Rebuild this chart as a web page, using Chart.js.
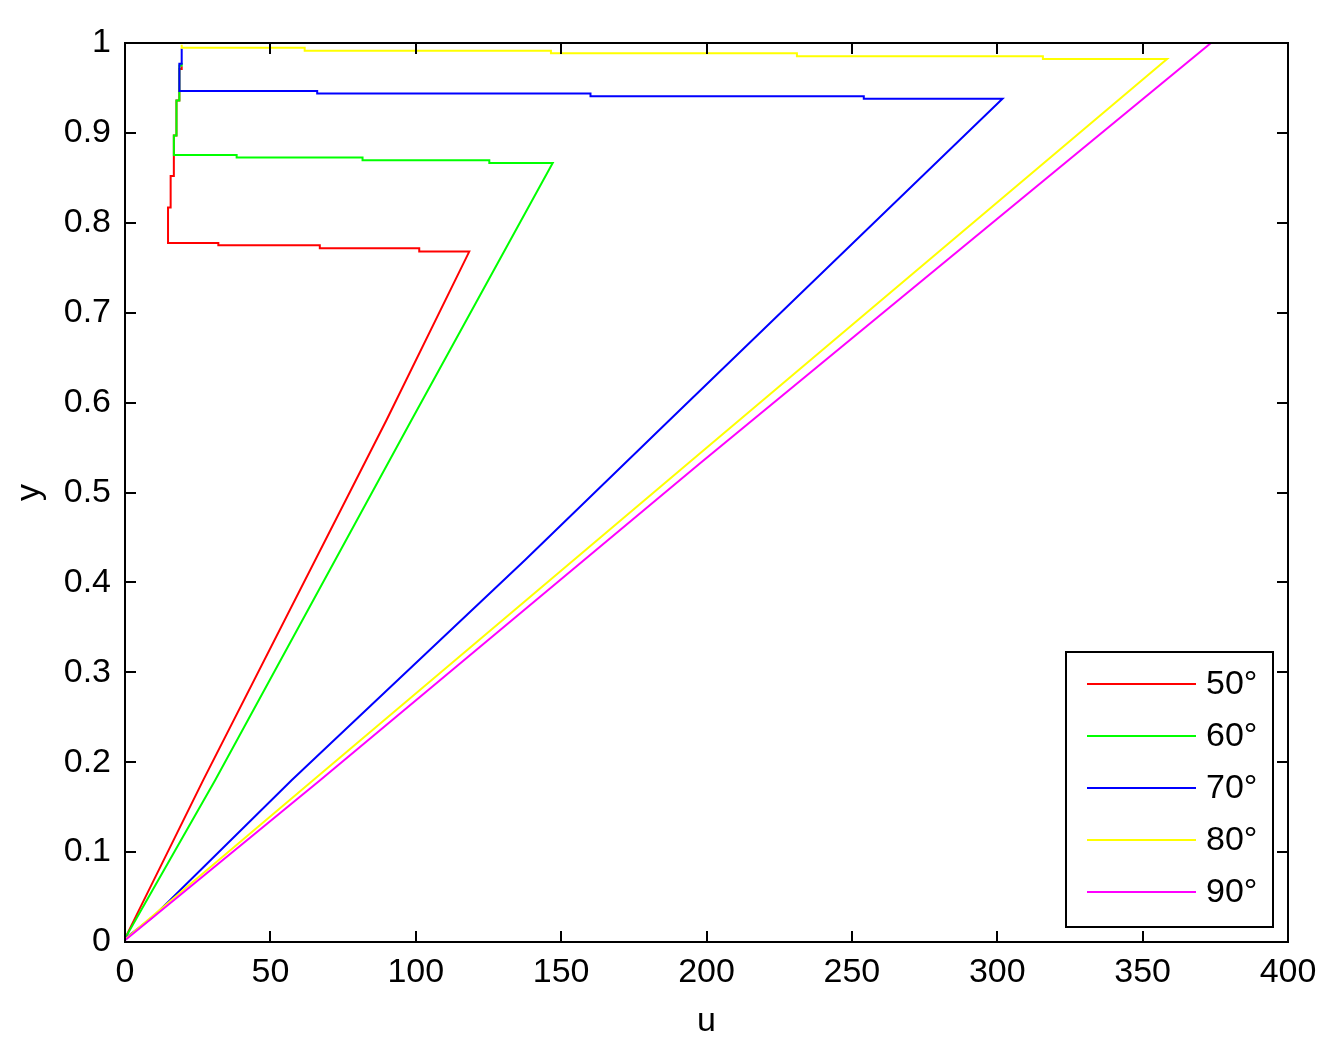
<!DOCTYPE html>
<html>
<head>
<meta charset="utf-8">
<title>u - y</title>
<script src="https://cdn.jsdelivr.net/npm/chart.js@4/dist/chart.umd.min.js"></script>
<style>
  html, body { margin: 0; padding: 0; background: #fff; }
  canvas { display: block; }
</style>
</head>
<body>
<canvas id="chart" width="1335" height="1052"></canvas>
<script>
// values
const seriesNames = ["50°", "60°", "70°", "80°", "90°"];
const seriesColors = ["#ff0000", "#00ff00", "#0000ff", "#ffff00", "#ff00ff"];

const u50 = [0, 26.9, 90, 118.4, 101.2, 101.2, 67.0, 67.0, 32.1, 32.1, 14.8, 14.8, 15.7, 15.7, 16.8, 16.8, 17.7, 17.7, 18.7, 18.7, 19.5, 19.5];
const y50 = [0.004, 0.180, 0.581, 0.768, 0.768, 0.7716, 0.7716, 0.775, 0.775, 0.7775, 0.7775, 0.817, 0.817, 0.852, 0.852, 0.897, 0.897, 0.936, 0.936, 0.971, 0.971, 0.974];

const u60 = [0, 31, 98.6, 147.1, 125.3, 125.3, 81.7, 81.7, 38.4, 38.4, 16.8, 16.8, 17.7, 17.7, 18.7, 18.7, 19.5, 19.5];
const y60 = [0.004, 0.180, 0.581, 0.8665, 0.8665, 0.8695, 0.8695, 0.8725, 0.8725, 0.8754, 0.8754, 0.897, 0.897, 0.936, 0.936, 0.975, 0.975, 0.978];

const u70 = [0, 9.7, 57.3, 137.6, 187.4, 301.8, 254.1, 254.1, 160.1, 160.1, 66.1, 66.1, 18.7, 18.7, 19.5, 19.5];
const y70 = [0.004, 0.028, 0.180, 0.425, 0.581, 0.9381, 0.9381, 0.9407, 0.9407, 0.9437, 0.9437, 0.9466, 0.9466, 0.977, 0.977, 0.994];

const u80 = [0, 64.7, 197.8, 358.4, 315.7, 315.7, 231.1, 231.1, 146.5, 146.5, 61.8, 61.8, 19.5, 19.5];
const y80 = [0.003, 0.180, 0.5436, 0.9822, 0.9822, 0.9852, 0.9852, 0.9885, 0.9885, 0.9914, 0.9914, 0.9948, 0.9948, 0.998];

const u90 = [0, 67.1, 197.8, 373.5];
const y90 = [0.002, 0.180, 0.5325, 1.0];

const xTicks = [0, 50, 100, 150, 200, 250, 300, 350, 400];
const xTickLabels = ["0", "50", "100", "150", "200", "250", "300", "350", "400"];
const yTicks = [0, 0.1, 0.2, 0.3, 0.4, 0.5, 0.6, 0.7, 0.8, 0.9, 1];
const yTickLabels = ["0", "0.1", "0.2", "0.3", "0.4", "0.5", "0.6", "0.7", "0.8", "0.9", "1"];

const FONT = "'Liberation Sans', Arial, sans-serif";

function toPoints(us, ys) {
  return us.map((u, i) => ({ x: u, y: ys[i] }));
}

const allU = [u50, u60, u70, u80, u90];
const allY = [y50, y60, y70, y80, y90];

const datasets = seriesNames.map((name, i) => ({
  label: name,
  data: toPoints(allU[i], allY[i]),
  showLine: true,
  borderColor: seriesColors[i],
  backgroundColor: seriesColors[i],
  borderWidth: 2,
  pointRadius: 0,
  tension: 0,
  order: seriesNames.length - i
}));

// matlab-like box with inward ticks on all four sides
const boxPlugin = {
  id: "box",
  afterDraw(chart) {
    const ctx = chart.ctx;
    const a = chart.chartArea;
    const xs = chart.scales.x;
    const ys = chart.scales.y;
    const len = 11;
    ctx.save();
    ctx.strokeStyle = "#000";
    ctx.lineWidth = 2;
    ctx.beginPath();
    xTicks.forEach(v => {
      const px = Math.round(xs.getPixelForValue(v));
      ctx.moveTo(px, a.bottom);
      ctx.lineTo(px, a.bottom - len);
      ctx.moveTo(px, a.top);
      ctx.lineTo(px, a.top + len);
    });
    yTicks.forEach(v => {
      const py = Math.round(ys.getPixelForValue(v));
      ctx.moveTo(a.left, py);
      ctx.lineTo(a.left + len, py);
      ctx.moveTo(a.right, py);
      ctx.lineTo(a.right - len, py);
    });
    ctx.stroke();
    ctx.strokeRect(a.left, a.top, a.right - a.left, a.bottom - a.top);

    // legend box, lower right
    const lx = 1066, ly = 652, lw = 207, lh = 275;
    ctx.fillStyle = "#fff";
    ctx.fillRect(lx, ly, lw, lh);
    ctx.strokeRect(lx, ly, lw, lh);
    ctx.font = "34px " + FONT;
    ctx.textBaseline = "middle";
    ctx.textAlign = "left";
    seriesNames.forEach((name, i) => {
      const yy = 684 + i * 52;
      ctx.strokeStyle = seriesColors[i];
      ctx.beginPath();
      ctx.moveTo(1087, yy);
      ctx.lineTo(1196, yy);
      ctx.stroke();
      ctx.fillStyle = "#000";
      ctx.fillText(name, 1206, yy + 1);
    });
    ctx.restore();
  }
};

new Chart(document.getElementById("chart"), {
  type: "scatter",
  data: { datasets },
  options: {
    responsive: false,
    devicePixelRatio: 1,
    animation: false,
    layout: { padding: { top: 43, right: 47, left: 0, bottom: 0 } },
    plugins: {
      legend: { display: false },
      tooltip: { enabled: false }
    },
    scales: {
      x: {
        type: "linear",
        min: 0,
        max: 400,
        grid: { display: false, drawTicks: false },
        border: { display: false },
        afterBuildTicks: s => { s.ticks = xTicks.map(v => ({ value: v })); },
        afterFit: s => { s.height = 110; },
        ticks: {
          color: "#000",
          padding: 10,
          maxRotation: 0,
          font: { family: FONT, size: 34 },
          callback: (v, i) => xTickLabels[i]
        },
        title: {
          display: true,
          text: "u",
          color: "#000",
          font: { family: FONT, size: 34 },
          padding: { top: 0, bottom: 10 }
        }
      },
      y: {
        type: "linear",
        min: 0,
        max: 1,
        grid: { display: false, drawTicks: false },
        border: { display: false },
        afterBuildTicks: s => { s.ticks = yTicks.map(v => ({ value: v })); },
        afterFit: s => { s.width = 125; },
        ticks: {
          color: "#000",
          padding: 14,
          font: { family: FONT, size: 34 },
          callback: (v, i) => yTickLabels[i]
        },
        title: {
          display: true,
          text: "y",
          color: "#000",
          font: { family: FONT, size: 34 },
          padding: { top: 9, bottom: 0 }
        }
      }
    }
  },
  plugins: [boxPlugin]
});
</script>
</body>
</html>
